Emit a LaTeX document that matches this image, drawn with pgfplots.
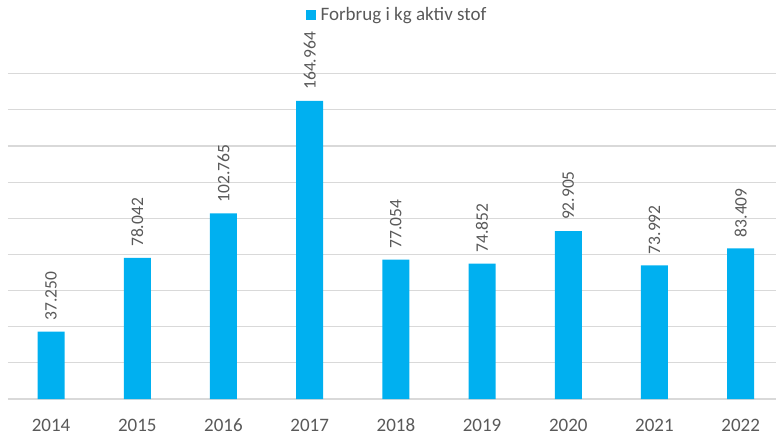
\documentclass[border=0pt]{standalone}
\usepackage{pgfplots}
\pgfplotsset{compat=1.18}
\usepackage{fontspec}
\setmainfont{Carlito}
\definecolor{barblue}{HTML}{00B0F0}
\definecolor{gridgray}{HTML}{D9D9D9}
\definecolor{txtgray}{HTML}{595959}
\begin{document}
\begin{tikzpicture}
\begin{axis}[
  scale only axis, width=768pt, height=325.3pt,
  xmin=-0.5, xmax=8.41, ymin=0, ymax=180000,
  ybar, bar width=27pt,
  xtick={0,...,8},
  xticklabels={2014,2015,2016,2017,2018,2019,2020,2021,2022},
  ytick={0,20000,...,180000}, yticklabels={}, scaled y ticks=false,
  ymajorgrids, grid style={gridgray, line width=1.2pt},
  axis line style={draw=none}, major tick length=0pt,
  ticklabel style={font=\fontsize{19}{19}\selectfont, text=txtgray},
  xticklabel style={anchor=base, yshift=-32pt},
  /pgf/number format/assume math mode=true,
  /pgf/number format/fixed,
  /pgf/number format/precision=0,
  /pgf/number format/1000 sep={.},
  nodes near coords,
  every node near coord/.append style={rotate=90, anchor=west, inner xsep=11pt, inner ysep=0pt,
    font=\fontsize{17.5}{17.5}\selectfont, text=txtgray},
  legend style={draw=none, fill=none, at={(0.5065,1.18)}, anchor=center,
    font=\fontsize{19}{19}\selectfont, text=txtgray},
  legend image code/.code={\fill[barblue] (0pt,-5pt) rectangle (10.5pt,5.5pt); \path (13pt,0pt);},
  clip=false,
]
\addplot[fill=barblue, draw=none] coordinates {
  (0,37250) (1,78042) (2,102765) (3,164964) (4,77054)
  (5,74852) (6,92905) (7,73992) (8,83409)};
\legend{Forbrug i kg aktiv stof}
\end{axis}
\pgfresetboundingbox
\path[use as bounding box] (-8pt,-38pt) rectangle (768pt,399pt);
\end{tikzpicture}
\end{document}
